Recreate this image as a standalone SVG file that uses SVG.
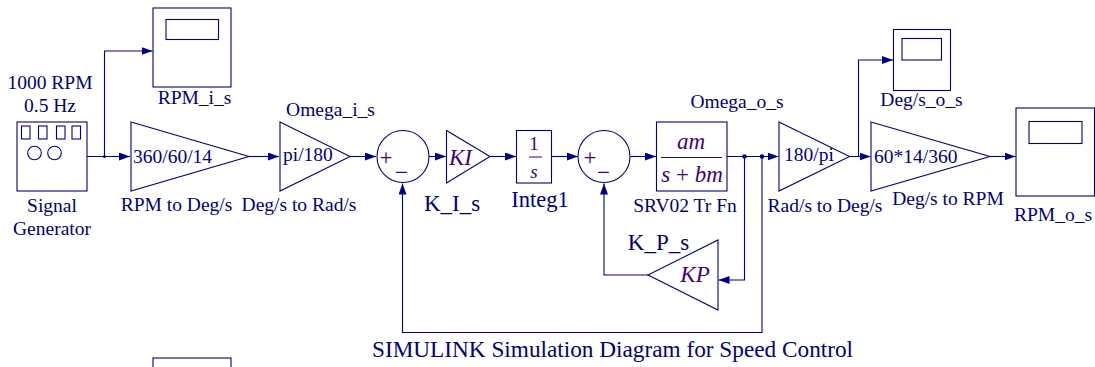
<svg xmlns="http://www.w3.org/2000/svg" width="1095" height="367" viewBox="0 0 1095 367">
<style>
.b{fill:none;stroke:#000090;stroke-width:1.1}
.c{fill:none;stroke:#000090;stroke-width:1.1}
text{font-family:"Liberation Serif","Times New Roman",serif;font-size:19.500px;fill:#000080;text-anchor:middle}
.s{text-anchor:start}
.p{fill:#42007f;font-size:23px}
.i{font-style:italic;fill:#42007f;font-size:23px}
.l{font-size:23px}
</style>
<defs>
<marker id="a" markerUnits="userSpaceOnUse" markerWidth="12" markerHeight="8" refX="11" refY="4" orient="auto"><path d="M0 0L11 4L0 8Z" fill="#000090"/></marker>
</defs>
<rect width="1095" height="367" fill="#fff"/>
<g id="connectors">
<path class="c" d="M87 156.500H130" marker-end="url(#a)"/>
<path class="c" d="M104.500 156.500V51H152.500" marker-end="url(#a)"/>
<circle cx="104.500" cy="156.500" r="1.500" fill="#000090"/>
<path class="c" d="M249 156.500H279" marker-end="url(#a)"/>
<path class="c" d="M350 156.500H376" marker-end="url(#a)"/>
<path class="c" d="M429 156.500H446" marker-end="url(#a)"/>
<path class="c" d="M490 156.500H516" marker-end="url(#a)"/>
<path class="c" d="M551.500 156.500H578" marker-end="url(#a)"/>
<path class="c" d="M630.500 156.500H656" marker-end="url(#a)"/>
<path class="c" d="M727 156.500H778.500" marker-end="url(#a)"/>
<circle cx="744.500" cy="156.500" r="2.300" fill="#000090"/>
<circle cx="762" cy="156.500" r="2.300" fill="#000090"/>
<path class="c" d="M744.500 156.500V280H718.500" marker-end="url(#a)"/>
<path class="c" d="M648 275H604V183.500" marker-end="url(#a)"/>
<path class="c" d="M762 156.500V332.500H402.500V183.500" marker-end="url(#a)"/>
<path class="c" d="M849.500 156.500H870.500" marker-end="url(#a)"/>
<path class="c" d="M858.500 156.500V60H893" marker-end="url(#a)"/>
<path class="c" d="M990 156.500H1015.500" marker-end="url(#a)"/>
</g>
<g id="signal-generator">
<rect class="b" x="17" y="122" width="70" height="69"/>
<rect class="b" x="21.500" y="126" width="8.500" height="13"/>
<rect class="b" x="38.500" y="126" width="8.500" height="13"/>
<rect class="b" x="56.500" y="126" width="8.500" height="13"/>
<rect class="b" x="72" y="126" width="8.500" height="13"/>
<circle class="b" cx="34.500" cy="153" r="6.800"/>
<circle class="b" cx="54.500" cy="153" r="6.800"/>
<text x="50" y="89">1000 RPM</text>
<text x="50" y="112">0.5 Hz</text>
<text x="52" y="211.500">Signal</text>
<text x="52" y="235">Generator</text>
</g>
<g id="rpm-i-s">
<rect class="b" x="153" y="8" width="78" height="79"/>
<rect class="b" x="166" y="19.500" width="52.500" height="20"/>
<text x="194.500" y="104">RPM_i_s</text>
</g>
<g id="rpm-to-deg">
<path class="b" d="M131 122L249 156.500L131 191Z"/>
<text class="s" x="133" y="163">360/60/14</text>
<text x="176.500" y="211">RPM to Deg/s</text>
</g>
<g id="deg-to-rad">
<path class="b" d="M280 122L350 156.500L280 191Z"/>
<text class="s" x="283" y="161">pi/180</text>
<text x="299" y="211">Deg/s to Rad/s</text>
<text x="330.500" y="116">Omega_i_s</text>
</g>
<g id="sum1">
<circle class="b" cx="403" cy="156.500" r="26"/>
<text class="p" x="386" y="165">+</text>
<text class="p" x="401.500" y="180">−</text>
</g>
<g id="ki">
<path class="b" d="M446.500 130.500L490 156.500L446.500 183Z"/>
<text class="i" x="460.500" y="165">KI</text>
<text class="l" x="452" y="211">K_I_s</text>
</g>
<g id="integ1">
<rect class="b" x="516.500" y="130.500" width="35" height="52.500"/>
<path d="M529 157H542" stroke="#42007f" stroke-width="1" fill="none"/>
<text class="p" x="534" y="150" style="font-size:19px">1</text>
<text class="i" x="534" y="178" style="font-size:19px">s</text>
<text class="l" x="540" y="206.500" style="font-size:22.500px">Integ1</text>
</g>
<g id="sum2">
<circle class="b" cx="604" cy="156.500" r="26"/>
<text class="p" x="590" y="165">+</text>
<text class="p" x="603.500" y="180">−</text>
</g>
<g id="srv02">
<rect class="b" x="656.500" y="122" width="70.500" height="69"/>
<path d="M661 157.500H722" stroke="#42007f" stroke-width="1" fill="none"/>
<text class="i" x="691" y="149">am</text>
<text class="i" x="692" y="181.500">s<tspan style="font-style:normal"> + </tspan>bm</text>
<text x="685" y="211.500">SRV02 Tr Fn</text>
<text x="737" y="107.500">Omega_o_s</text>
</g>
<g id="kp">
<path class="b" d="M648 275L718 240V310Z"/>
<text class="i" x="695" y="281.500">KP</text>
<text class="l" x="658.500" y="250">K_P_s</text>
</g>
<g id="rad-to-deg">
<path class="b" d="M779 122L849.500 156.500L779 191Z"/>
<text class="s" x="784" y="161">180/pi</text>
<text x="825" y="211.500">Rad/s to Deg/s</text>
</g>
<g id="deg-to-rpm">
<path class="b" d="M871 122L990 156.500L871 191Z"/>
<text class="s" x="874" y="163">60*14/360</text>
<text x="948" y="205">Deg/s to RPM</text>
</g>
<g id="deg-s-o-s">
<rect class="b" x="893.500" y="29.500" width="57" height="61"/>
<rect class="b" x="902" y="38.500" width="39.500" height="21.500"/>
<text x="921.500" y="106">Deg/s_o_s</text>
</g>
<g id="rpm-o-s">
<rect class="b" x="1016" y="108" width="78.500" height="88"/>
<rect class="b" x="1029" y="121.500" width="53" height="22"/>
<text x="1053" y="221">RPM_o_s</text>
</g>
<g id="clipped-scope">
<rect class="b" x="153" y="358" width="78" height="40"/>
</g>
<text id="caption" x="612.500" y="356.500" style="font-size:23.250px">SIMULINK Simulation Diagram for Speed Control</text>
</svg>
